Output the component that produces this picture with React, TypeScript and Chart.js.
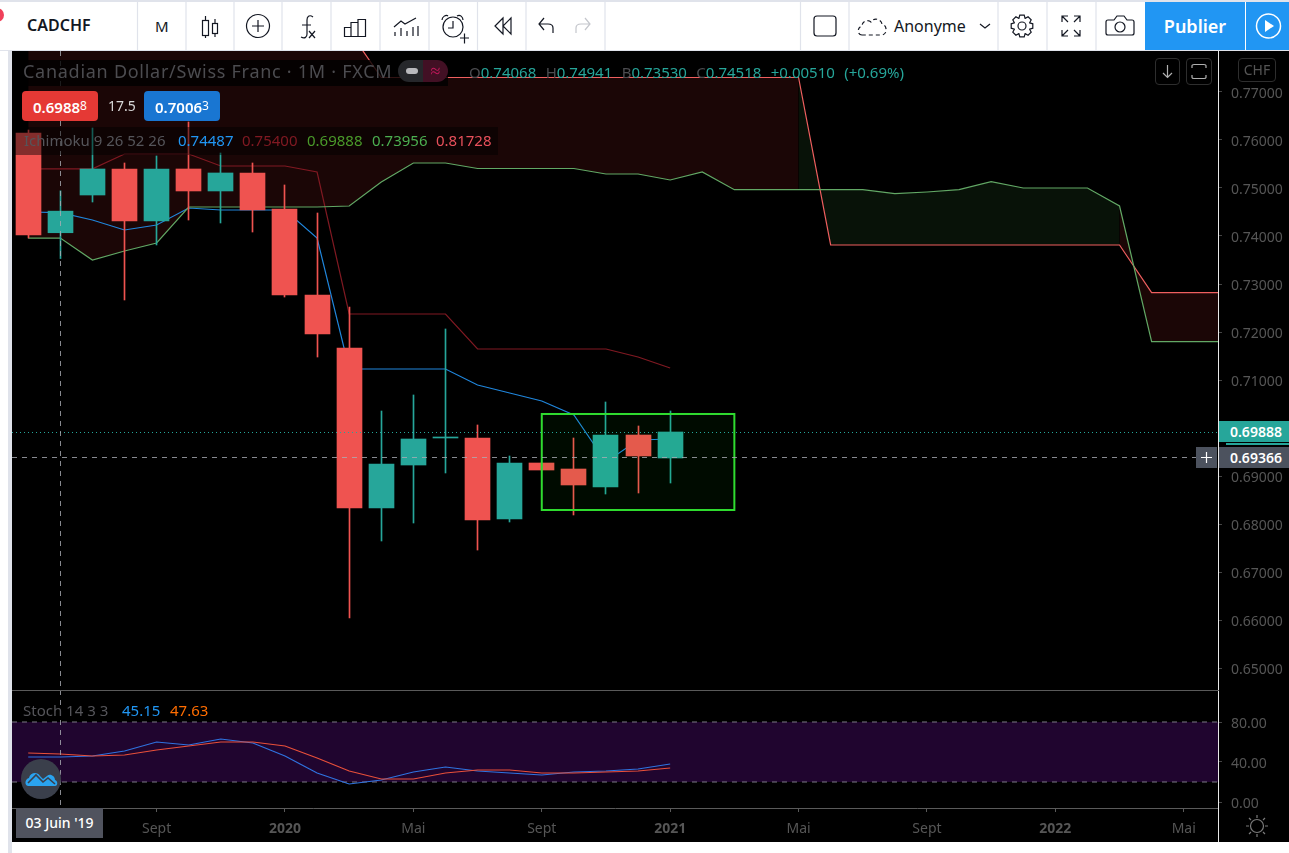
import React, { useEffect, useRef } from "react";
import { Chart, registerables } from "chart.js";

Chart.register(...registerables);

// ---------- data ----------
const months = ["Mai '19","Juin '19","Juil '19","Août '19","Sept '19","Oct '19","Nov '19","Déc '19","Janv '20","Févr '20","Mars '20","Avr '20","Mai '20","Juin '20","Juil '20","Août '20","Sept '20","Oct '20","Nov '20","Déc '20","Janv '21"];
const opens  = [0.76146,0.74068,0.74854,0.75396,0.74313,0.75396,0.74938,0.75313,0.74563,0.72771,0.71667,0.68333,0.69229,0.69792,0.69792,0.68104,0.69271,0.69146,0.68771,0.69854,0.69375];
const closes = [0.74021,0.74518,0.75396,0.74313,0.75396,0.74938,0.75313,0.74542,0.72771,0.71958,0.68333,0.69250,0.69771,0.69813,0.68083,0.69271,0.69125,0.68813,0.69854,0.69417,0.69917];
const highs  = [0.76208,0.74941,0.7625,0.75521,0.75667,0.76375,0.75729,0.75521,0.75063,0.74479,0.72521,0.70354,0.70688,0.72063,0.70063,0.69417,0.69271,0.69792,0.70542,0.70042,0.70354];
const lows   = [0.73958,0.73530,0.74708,0.72667,0.73813,0.74333,0.74271,0.74083,0.72729,0.71479,0.66042,0.67646,0.68021,0.69063,0.67458,0.68042,0.69125,0.68188,0.68625,0.68646,0.68854];

const tenkan = [0.745,0.74487,0.74333,0.74125,0.74229,0.74583,0.74542,0.74542,0.74542,0.73958,0.71229,0.71229,0.71229,0.71229,0.70896,0.70729,0.70563,0.70271,0.69292,0.6975,0.69771];
const kijun  = [0.754,0.754,0.754,0.75708,0.75708,0.75708,0.75458,0.75458,0.75458,0.75333,0.72375,0.72375,0.72375,0.72375,0.71646,0.71646,0.71646,0.71646,0.71646,0.71479,0.7125];
const spanA  = [0.73956,0.73956,0.735,0.73688,0.73854,0.74604,0.74604,0.74604,0.74604,0.74604,0.74625,0.75125,0.75521,0.75521,0.75406,0.75406,0.75406,0.75406,0.75292,0.75292,0.75167,0.75333,0.74965,0.74965,0.74965,0.74965,0.74965,0.74881,0.74917,0.74965,0.75131,0.75,0.75,0.75,0.74625,0.71798,0.71798,0.71798,0.71798];
const spanB  = [0.81728,0.81728,0.81728,0.81728,0.81728,0.81728,0.81728,0.81728,0.81728,0.81728,0.78271,0.77302,0.77302,0.77302,0.77302,0.77302,0.77302,0.77302,0.77302,0.77302,0.77302,0.77302,0.77302,0.77302,0.77302,0.73813,0.73813,0.73813,0.73813,0.73813,0.73813,0.73813,0.73813,0.73813,0.73813,0.72819,0.72819,0.72819,0.72819];

const stochK = [45,45,46,51,60,57,63,59,46,29,18,22,30,35,31,29,27,30,31,33,38];
const stochD = [49,48,46,47,52,56,60,60,56,44,31,23,23,29,32,32,29,29,30,31,34];

const priceTicks = [0.77,0.76,0.75,0.74,0.73,0.72,0.71,0.70,0.69,0.68,0.67,0.66,0.65];
const stochTicks = [80,40,0];
const stochBand = [80,20];
const timeTicks = [4,8,12,16,20,24,28,32,36];
const timeLabels = ["Sept","2020","Mai","Sept","2021","Mai","Sept","2022","Mai"];
const zoneMonths = [16,22];
const zonePrices = [0.70292,0.68292];
const crosshairMonth = 1;
const crosshairDate = "03 Juin '19";
const crosshairPrice = 0.69386;
const lastPrice = 0.69917;

// ---------- styling ----------
const xMin = -0.505;
const xMax = 37.068;
const UP = "#26a69a";
const DOWN = "#ef5350";
const GREY = "#565656";
const FONT = "'Noto Sans'";

const pts = (arr: number[], from = 0) => arr.map((y, i) => ({ x: i + from, y }));

const band = (from: number, to: number, color: string) => {
  const a = pts(spanA).slice(from, to + 1);
  const b = pts(spanB).slice(from, to + 1);
  const base = { type: "line", pointRadius: 0, borderWidth: 0, order: 10 };
  return [
    { ...base, data: a, fill: "+1", backgroundColor: color },
    { ...base, data: b, fill: false },
  ];
};

const line = (data: number[], color: string, width = 1.2) => ({
  type: "line",
  data: pts(data),
  borderColor: color,
  borderWidth: width,
  pointRadius: 0,
  fill: false,
  tension: 0,
  order: 5,
});

const fixedBox = (size: number, horizontal: boolean) => (scale: any) => {
  if (horizontal) scale.height = size;
  else scale.width = size;
  scale.paddingTop = 0;
  scale.paddingBottom = 0;
  scale.paddingLeft = 0;
  scale.paddingRight = 0;
};

// Keeps candle bodies and wicks on whole pixels, as the original draws them.
const crispBars = {
  id: "crispBars",
  afterDatasetsUpdate(chart: any) {
    chart.getSortedVisibleDatasetMetas().forEach((meta: any) => {
      if (meta.type !== "bar") return;
      meta.data.forEach((el: any) => {
        el.x = Math.floor(el.x) + 0.5;
      });
    });
  },
};

const crosshairV = {
  id: "crosshairV",
  afterDatasetsDraw(chart: any) {
    const { ctx, chartArea: a, scales } = chart;
    const x = Math.round(scales.x.getPixelForValue(crosshairMonth)) + 0.5;
    ctx.save();
    ctx.strokeStyle = "rgba(170,172,180,0.8)";
    ctx.setLineDash([5, 5]);
    ctx.lineWidth = 1;
    ctx.beginPath();
    ctx.moveTo(x, a.top);
    ctx.lineTo(x, a.bottom);
    ctx.stroke();
    ctx.restore();
  },
};

const overlays = {
  id: "overlays",
  afterDatasetsDraw(chart: any) {
    const { ctx, chartArea: a, scales } = chart;
    const px = (v: number) => scales.x.getPixelForValue(v);
    const py = (v: number) => scales.y.getPixelForValue(v);
    ctx.save();
    const x0 = px(zoneMonths[0]), x1 = px(zoneMonths[1]);
    const y0 = py(zonePrices[0]), y1 = py(zonePrices[1]);
    ctx.fillStyle = "rgba(0,255,0,0.045)";
    ctx.fillRect(x0, y0, x1 - x0, y1 - y0);
    ctx.strokeStyle = "#2fdc2f";
    ctx.lineWidth = 2;
    ctx.strokeRect(x0, y0, x1 - x0, y1 - y0);

    ctx.lineWidth = 1;
    ctx.strokeStyle = UP;
    ctx.setLineDash([1, 3]);
    const yl = Math.round(py(lastPrice)) + 0.5;
    ctx.beginPath();
    ctx.moveTo(a.left, yl);
    ctx.lineTo(a.right, yl);
    ctx.stroke();

    ctx.strokeStyle = "rgba(170,172,180,0.8)";
    ctx.setLineDash([5, 5]);
    const yc = Math.round(py(crosshairPrice)) + 0.5;
    ctx.beginPath();
    ctx.moveTo(a.left, yc);
    ctx.lineTo(a.right, yc);
    ctx.stroke();
    ctx.restore();
  },
};

// ---------- toolbar ----------
const ink = "#131722";

const gearPath = (cx: number, cy: number) => {
  const step = Math.PI / 4;
  const parts: string[] = [];
  for (let i = 0; i < 8; i++) {
    const a = i * step;
    const p = [
      [8.2, a - 0.39],
      [11, a - 0.2],
      [11, a + 0.2],
      [8.2, a + 0.39],
    ];
    p.forEach(([r, t], j) => {
      parts.push(`${i === 0 && j === 0 ? "M" : "L"}${(cx + r * Math.cos(t)).toFixed(1)} ${(cy + r * Math.sin(t)).toFixed(1)}`);
    });
  }
  return parts.join("") + "Z";
};

const Toolbar = () => (
  <svg width={1289} height={50} style={{ position: "absolute", left: 0, top: 0 }} fill="none" stroke={ink} strokeWidth={1.2}>
    {[137.5,186,234,282,331,380,429,477.5,526,605,800.5,849,998,1047,1096].map((x) => (
      <line key={x} x1={x} x2={x} y1={2} y2={50} stroke="#e0e3eb" />
    ))}
    <rect x={202.5} y={20.5} width={6} height={15} />
    <rect x={212.5} y={23.5} width={5} height={10} />
    <path d="M205.5 16v4.5M205.5 35.5V38M215 19v4.5M215 33.5V37" />
    <circle cx={258} cy={26} r={11.5} />
    <path d="M258 20v12M252 26h12" />
    <path d="M313 17c-4-3-6 0-6 3v14c0 3-2 5-6 3M302 25h9M309 31l6 7M315 31l-6 7" />
    <path d="M344.5 36.5v-9h6.5v9zM351 36.5v-14h7v14zM358 36.5v-17h7.5v17z" />
    <path d="M394 27l7-6 4 3 11-6M395 36v-4M401 36v-8M407 36v-5M413 36v-9M418 36v-10" />
    <circle cx={453} cy={27} r={10} />
    <path d="M453 21v7h-5M442 20c0-3 4-6 6-4M463 20c0-3-3-6-6-4" />
    <path d="M460 38h9M464.5 33.5v10" stroke={ink} />
    <path d="M503 18l-8 8 8 8zM511 18l-8 8 8 8z" />
    <path d="M553 33v-5c0-3-2-4-5-4h-9M544 18l-5 6 5 6" />
    <path d="M576 33v-5c0-3 2-4 5-4h9M585 18l5 6-5 6" stroke="#c4c6cc" />
    <rect x={814} y={16} width={22} height={20} rx={3} />
    <path d="M862 35c-5 0-5-8 0-9 0-5 6-7 9-4 3-5 10-3 11 2 5 1 6 10 0 11z" strokeDasharray="4 3" />
    <path d="M980 24l5 4 5-4" />
    <circle cx={1022} cy={26} r={4} />
    <path d={gearPath(1022, 26)} />
    <path d="M1062 22v-6h6M1062 16l6 6M1080 22v-6h-6M1080 16l-6 6M1062 30v6h6M1062 36l6-6M1080 30v6h-6M1080 36l-6-6" />
    <path d="M1108 20h6l3-4h7l3 4h5c1 0 2 1 2 2v11c0 1-1 2-2 2h-24c-1 0-2-1-2-2V22c0-1 1-2 2-2z" />
    <circle cx={1120} cy={27} r={5} />
  </svg>
);

const Val = ({ x, y, color, children, size = 15, style }: any) => (
  <div style={{ position: "absolute", left: x, top: y, color, fontSize: size, lineHeight: "20px", whiteSpace: "nowrap", ...style }}>{children}</div>
);

const PriceBtn = ({ x, color, main, small }: any) => (
  <div style={{ position: "absolute", left: x, top: 91, width: 76, height: 30, borderRadius: 4, background: color, color: "#fff", fontSize: 15, fontWeight: 600, lineHeight: "30px", textAlign: "center" }}>
    {main}
    <span style={{ fontSize: 12, verticalAlign: 3, fontWeight: 400 }}>{small}</span>
  </div>
);

const IconBox = ({ x, w, h = 27, children }: any) => (
  <div style={{ position: "absolute", left: x, top: 58, width: w, height: h, boxSizing: "border-box", border: "1px solid #2e2e2e", borderRadius: 4, color: "#555", textAlign: "center", fontSize: 14, lineHeight: `${h - 2}px` }}>{children}</div>
);

export default function App() {
  const mainRef = useRef<HTMLCanvasElement>(null);
  const stochRef = useRef<HTMLCanvasElement>(null);

  useEffect(() => {
    const colors = closes.map((c, i) => (c >= opens[i] ? UP : DOWN));
    const main = new Chart(mainRef.current as any, {
      type: "bar",
      data: {
        labels: months,
        datasets: [
          ...band(0, 24, "rgba(255,60,60,0.105)"),
          ...band(24, 34, "rgba(76,175,80,0.1)"),
          ...band(34, 38, "rgba(255,60,60,0.105)"),
          line(spanA, "#62a865"),
          line(spanB, "#ef5f5f"),
          line(kijun, "#801922"),
          line(tenkan, "#2086dc"),
          {
            type: "bar",
            data: lows.map((l, i) => ({ x: i, y: [l, highs[i]] })),
            backgroundColor: colors,
            barThickness: 1,
            grouped: false,
            order: 2,
          },
          {
            type: "bar",
            data: opens.map((o, i) => ({ x: i, y: [o, closes[i]] })),
            backgroundColor: colors,
            barThickness: 25,
            grouped: false,
            order: 1,
          },
        ] as any,
      },
      options: {
        responsive: false,
        animation: false,
        layout: { padding: 0 },
        plugins: { legend: { display: false }, tooltip: { enabled: false } },
        scales: {
          x: { type: "linear", min: xMin, max: xMax, display: false, offset: false, grid: { offset: false } },
          y: {
            position: "right",
            min: 0.64542,
            max: 0.77854,
            afterFit: fixedBox(71, false),
            afterBuildTicks: (s: any) => { s.ticks = priceTicks.map((value) => ({ value })); },
            border: { color: "#e8e8e8", width: 1 },
            grid: { drawOnChartArea: false, drawTicks: true, tickLength: 4, color: "#444" },
            ticks: {
              color: GREY,
              padding: 9,
              labelOffset: 2,
              font: { family: FONT, size: 14 },
              callback: (v: any) => Number(v).toFixed(5),
            },
          },
        },
      } as any,
      plugins: [crispBars, overlays, crosshairV],
    });

    const stoch = new Chart(stochRef.current as any, {
      type: "line",
      data: {
        datasets: [
          {
            data: [{ x: xMin, y: stochBand[0] }, { x: xMax, y: stochBand[0] }],
            borderColor: "#7d7a86", borderWidth: 1, borderDash: [5, 5], pointRadius: 0,
            fill: "+1", backgroundColor: "#20052f", order: 10,
          },
          {
            data: [{ x: xMin, y: stochBand[1] }, { x: xMax, y: stochBand[1] }],
            borderColor: "#7d7a86", borderWidth: 1, borderDash: [5, 5], pointRadius: 0,
            fill: false, order: 9,
          },
          { data: pts(stochK), borderColor: "#2f73e0", borderWidth: 1.2, pointRadius: 0, fill: false, order: 2 },
          { data: pts(stochD), borderColor: "#e8503a", borderWidth: 1.2, pointRadius: 0, fill: false, order: 1 },
        ] as any,
      },
      options: {
        responsive: false,
        animation: false,
        layout: { padding: 0 },
        plugins: { legend: { display: false }, tooltip: { enabled: false } },
        scales: {
          x: {
            type: "linear",
            min: xMin,
            max: xMax,
            afterFit: fixedBox(34, true),
            afterBuildTicks: (s: any) => { s.ticks = timeTicks.map((value) => ({ value })); },
            border: { color: "#5a5a5a", width: 1 },
            grid: { drawOnChartArea: false, drawTicks: true, tickLength: 4, color: "#5a5a5a" },
            ticks: {
              color: GREY,
              maxRotation: 0,
              autoSkip: false,
              padding: 9,
              font: (c: any) => {
                const label = timeLabels[timeTicks.indexOf(c.tick?.value)];
                return { family: FONT, size: 14, weight: label && /^\d/.test(label) ? "bold" : "normal" };
              },
              callback: (v: any) => timeLabels[timeTicks.indexOf(Number(v))] ?? "",
            },
          },
          y: {
            position: "right",
            min: -6,
            max: 112,
            afterFit: fixedBox(71, false),
            afterBuildTicks: (s: any) => { s.ticks = stochTicks.map((value) => ({ value })); },
            border: { color: "#e8e8e8", width: 1 },
            grid: { drawOnChartArea: false, drawTicks: true, tickLength: 4, color: "#444" },
            ticks: {
              color: GREY,
              padding: 9,
              labelOffset: 2,
              font: { family: FONT, size: 14 },
              callback: (v: any) => Number(v).toFixed(2),
            },
          },
        },
      } as any,
      plugins: [crosshairV],
    });

    return () => {
      main.destroy();
      stoch.destroy();
    };
  }, []);

  return (
    <div style={{ position: "relative", width: 1289, height: 853, overflow: "hidden", background: "#fff", fontFamily: FONT, color: ink }}>
      <style>{`html,body{margin:0;padding:0;background:#fff}`}</style>

      <div style={{ position: "absolute", left: 0, top: 0, width: 1289, height: 2, background: "#e0e3eb" }} />
      <div style={{ position: "absolute", left: 8, top: 50, width: 4, height: 803, background: "#e0e3eb" }} />
      <div style={{ position: "absolute", left: -10, top: 8, width: 14, height: 14, borderRadius: 7, background: "#f0405a" }} />
      <div style={{ position: "absolute", left: 0, top: 50, width: 1289, height: 1, background: "#e0e3eb" }} />

      <Toolbar />
      <Val x={27} y={15} color={ink} size={16}><b style={{ fontWeight: 600 }}>CADCHF</b></Val>
      <Val x={155} y={16} color={ink} size={15}>M</Val>
      <Val x={894} y={16} color={ink} size={16}>Anonyme</Val>
      <div style={{ position: "absolute", left: 1145, top: 2, width: 100, height: 48, background: "#2196f3", color: "#fff", fontSize: 18, fontWeight: 600, lineHeight: "48px", textAlign: "center" }}>Publier</div>
      <div style={{ position: "absolute", left: 1246, top: 2, width: 43, height: 48, background: "#2196f3" }}>
        <svg width={43} height={48} fill="none" stroke="#fff" strokeWidth={1.5}>
          <circle cx={22.5} cy={24} r={12} />
          <path d="M19 18l9 6-9 6z" fill="#fff" stroke="none" />
        </svg>
      </div>

      <div style={{ position: "absolute", left: 12, top: 51, width: 1277, height: 791, background: "#000" }} />
      <canvas ref={mainRef} width={1277} height={639} style={{ position: "absolute", left: 12, top: 51, display: "block" }} />
      <canvas ref={stochRef} width={1277} height={152} style={{ position: "absolute", left: 12, top: 690, display: "block" }} />
      <div style={{ position: "absolute", left: 12, top: 690, width: 1207, height: 1, background: "#5a5a5a" }} />
      <div style={{ position: "absolute", left: 1219, top: 809, width: 70, height: 33, background: "#000" }}>
        <svg width={70} height={33} fill="none" stroke="#7a7a7a" strokeWidth={1.2}>
          <circle cx={38} cy={17} r={6.5} />
          <path d="M38 6v3M38 25v3M27 17h3M46 17h3M30 9l2 2M46 9l-2 2M30 25l2-2M46 25l-2-2" />
        </svg>
      </div>
      <div style={{ position: "absolute", left: 1218, top: 808, width: 1, height: 34, background: "#e8e8e8" }} />

      <div style={{ position: "absolute", left: 15, top: 60, width: 433, height: 26, background: "rgba(0,0,0,0.8)" }} />
      <div style={{ position: "absolute", left: 15, top: 127, width: 483, height: 28, background: "rgba(0,0,0,0.45)" }} />
      <Val x={23} y={61} color="#4c4c50" size={18} style={{ letterSpacing: 0.73 }}>Canadian Dollar/Swiss Franc · 1M · FXCM</Val>
      <div style={{ position: "absolute", left: 398, top: 60, width: 25, height: 22, borderRadius: "11px 0 0 11px", background: "#26272b" }}>
        <div style={{ position: "absolute", left: 8, top: 8, width: 12, height: 6, borderRadius: 3, background: "#b8b8bc" }} />
      </div>
      <div style={{ position: "absolute", left: 423, top: 60, width: 25, height: 22, borderRadius: "0 11px 11px 0", background: "#421024", color: "#c2185b", fontSize: 18, lineHeight: "21px", textAlign: "center" }}>≈</div>
      <div style={{ position: "absolute", left: 469, top: 62, color: UP, fontSize: 15, lineHeight: "20px", whiteSpace: "nowrap", wordSpacing: 5.5 }}>
        <span style={{ color: "#4c4c50" }}>O</span>0.74068 <span style={{ color: "#4c4c50" }}>H</span>0.74941 <span style={{ color: "#4c4c50" }}>B</span>0.73530 <span style={{ color: "#4c4c50" }}>C</span>0.74518 +0.00510 (+0.69%)
      </div>

      <PriceBtn x={22} color="#e53935" main="0.6988" small="8" />
      <Val x={108} y={96} color="#d8d8d8" size={14}>17.5</Val>
      <PriceBtn x={144} color="#1976d2" main="0.7006" small="3" />

      <Val x={24} y={130} color="#55555a">Ichimoku 9 26 52 26</Val>
      <Val x={178} y={130} color="#2196f3">0.74487</Val>
      <Val x={242} y={130} color="#801922">0.75400</Val>
      <Val x={307} y={130} color="#4a9a2a">0.69888</Val>
      <Val x={372} y={130} color="#4caf50">0.73956</Val>
      <Val x={436} y={130} color="#e8505b">0.81728</Val>

      <Val x={23} y={700} color="#55555a">Stoch 14 3 3</Val>
      <Val x={122} y={700} color="#2196f3">45.15</Val>
      <Val x={170} y={700} color="#ff6d00">47.63</Val>

      <IconBox x={1155} w={25}>
        <svg width={23} height={25} fill="none" stroke="#b0b0b0" strokeWidth={1.2}>
          <path d="M11.5 6v12M7 14l4.5 4.5L16 14" />
        </svg>
      </IconBox>
      <IconBox x={1186} w={26}>
        <svg width={24} height={25} fill="none" stroke="#b0b0b0" strokeWidth={1.2}>
          <path d="M5 9V6.5C5 6 6 5.5 7 5.5h10c1 0 2 .5 2 1V9M5 16v2.5c0 .5 1 1 2 1h10c1 0 2-.5 2-1V16" />
        </svg>
      </IconBox>
      <IconBox x={1238} w={38} h={24}>CHF</IconBox>

      <div style={{ position: "absolute", left: 1219, top: 421, width: 70, height: 21, background: UP, color: "#fff", fontSize: 14, fontWeight: 600, lineHeight: "21px", paddingLeft: 11, boxSizing: "border-box" }}>0.69888</div>
      <div style={{ position: "absolute", left: 1226, top: 443, width: 63, height: 2, background: UP }} />
      <div style={{ position: "absolute", left: 1219, top: 447, width: 70, height: 21, background: "#4c525e", color: "#fff", fontSize: 14, fontWeight: 600, lineHeight: "21px", paddingLeft: 11, boxSizing: "border-box" }}>0.69366</div>
      <div style={{ position: "absolute", left: 1196, top: 447, width: 21, height: 21, background: "#4c525e" }}>
        <svg width={21} height={21} stroke="#fff" strokeWidth={1.2}>
          <path d="M10.5 5v11M5 10.5h11" />
        </svg>
      </div>

      <div style={{ position: "absolute", left: 16, top: 808, width: 87, height: 30, background: "#50535e", color: "#fff", fontSize: 14, fontWeight: 500, lineHeight: "30px", textAlign: "center", whiteSpace: "nowrap" }}>{crosshairDate}</div>
      <div style={{ position: "absolute", left: 21, top: 759, width: 40, height: 40, borderRadius: 20, background: "#3a3f4b" }}>
        <svg width={40} height={40}>
          <path d="M7 27c-4-1-3-7 1-8 1-5 8-7 11-2l3 3 4-3c3-3 8 0 8 4 3 1 3 6 0 6z" fill="#2aa3ef" />
          <path d="M7 24l8-8 7 7 5-4 7 6" fill="none" stroke="#3a3f4b" strokeWidth={1.6} />
        </svg>
      </div>
    </div>
  );
}
